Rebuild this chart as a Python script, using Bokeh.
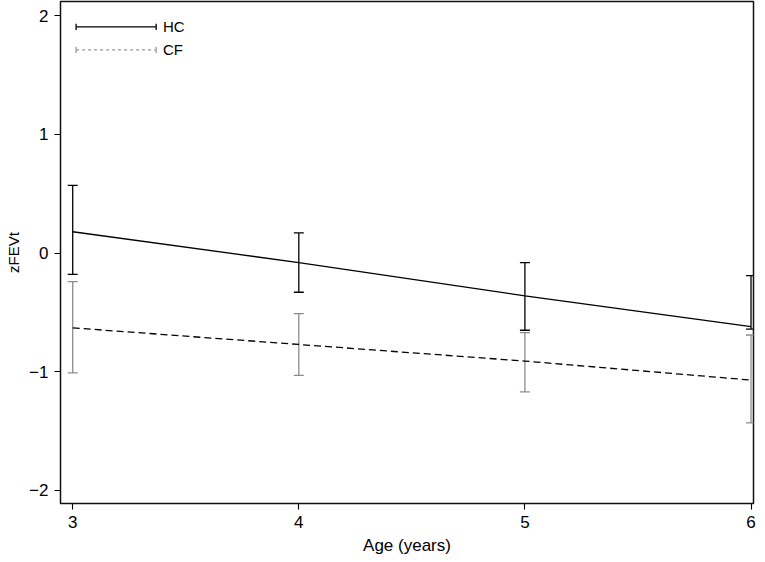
from bokeh.plotting import figure
from bokeh.models import ColumnDataSource, Whisker, TeeHead, FixedTicker, Range1d
from bokeh.core.properties import value
from bokeh.embed import file_html
from bokeh.resources import INLINE

# ---- data ----
ages = [3, 4, 5, 6]
hc_mean = [0.18, -0.08, -0.36, -0.62]
hc_upper = [0.57, 0.17, -0.08, -0.19]
hc_lower = [-0.18, -0.33, -0.65, -0.64]
cf_mean = [-0.63, -0.77, -0.91, -1.07]
cf_upper = [-0.24, -0.51, -0.67, -0.69]
cf_lower = [-1.01, -1.03, -1.17, -1.43]
x_ticks = [3, 4, 5, 6]
y_ticks = [-2, -1, 0, 1, 2]
series_names = ["HC", "CF"]

FONT = "Liberation Sans"
GRAY = "#8c8c8c"

p = figure(width=765, height=562, output_backend="svg", toolbar_location=None,
           x_range=Range1d(2.946, 6.011), y_range=Range1d(-2.11, 2.12),
           min_border_left=60, min_border_right=12, min_border_top=1, min_border_bottom=59)
p.xgrid.visible = False
p.ygrid.visible = False
p.outline_line_color = "#111111"
p.outline_line_width = 1.5
p.background_fill_color = "white"
p.border_fill_color = "white"

for ax in (p.xaxis[0], p.yaxis[0]):
    ax.axis_line_color = None
    ax.major_tick_line_color = "black"
    ax.major_tick_line_width = 1.1
    ax.major_tick_out = 6
    ax.major_tick_in = 0
    ax.minor_tick_line_color = None
    ax.major_label_text_font = FONT
    ax.major_label_text_font_size = "17px"
    ax.major_label_text_color = "black"
    ax.axis_label_text_font = FONT
    ax.axis_label_text_font_style = "normal"
    ax.axis_label_text_color = "black"

p.xaxis.ticker = FixedTicker(ticks=x_ticks)
p.yaxis.ticker = FixedTicker(ticks=y_ticks)
p.xaxis.axis_label = "Age (years)"
p.yaxis.axis_label = "zFEVt"
p.xaxis.axis_label_text_font_size = "17px"
p.yaxis.axis_label_text_font_size = "15px"
p.xaxis.major_label_standoff = 6
p.yaxis.major_label_standoff = 6
p.xaxis.axis_label_standoff = 5
p.yaxis.axis_label_standoff = 4
p.yaxis.major_label_overrides = {-2: "\u22122", -1: "\u22121", 0: "0", 1: "1", 2: "2"}

src = ColumnDataSource(dict(age=ages, hc_mean=hc_mean, hc_upper=hc_upper, hc_lower=hc_lower,
                            cf_mean=cf_mean, cf_upper=cf_upper, cf_lower=cf_lower))

# error bars
w_cf = Whisker(source=src, base="age", upper="cf_upper", lower="cf_lower",
               line_color=GRAY, line_width=1.3,
               upper_head=TeeHead(size=10, line_color=GRAY, line_width=1.3),
               lower_head=TeeHead(size=10, line_color=GRAY, line_width=1.3))
w_hc = Whisker(source=src, base="age", upper="hc_upper", lower="hc_lower",
               line_color="black", line_width=1.3,
               upper_head=TeeHead(size=10, line_color="black", line_width=1.3),
               lower_head=TeeHead(size=10, line_color="black", line_width=1.3))
p.add_layout(w_cf)
p.add_layout(w_hc)

# mean lines
p.line("age", "hc_mean", source=src, line_color="black", line_width=1.3)
p.line("age", "cf_mean", source=src, line_color="black", line_width=1.3, line_dash="7 4")

# legend (drawn manually; positions in plot units)
leg_x0, leg_x1 = 3.015, 3.369
leg_y = [1.906, 1.713]
leg_colors = ["black", "#999999"]
leg_dash = ["solid", "3 3"]
cap = 0.026
for name, yy, c, d in zip(series_names, leg_y, leg_colors, leg_dash):
    p.segment(x0=[leg_x0], y0=[yy], x1=[leg_x1], y1=[yy], line_color=c, line_width=1.3, line_dash=d)
    p.segment(x0=[leg_x0, leg_x1], y0=[yy - cap, yy - cap], x1=[leg_x0, leg_x1], y1=[yy + cap, yy + cap],
              line_color=c, line_width=1.3)
    p.text(x=[leg_x1 + 0.03], y=[yy], text=[name], text_font=value(FONT), text_font_size="15px",
           text_baseline="middle", text_align="left", text_color="black")

open("out.html", "w").write(file_html(p, INLINE))
